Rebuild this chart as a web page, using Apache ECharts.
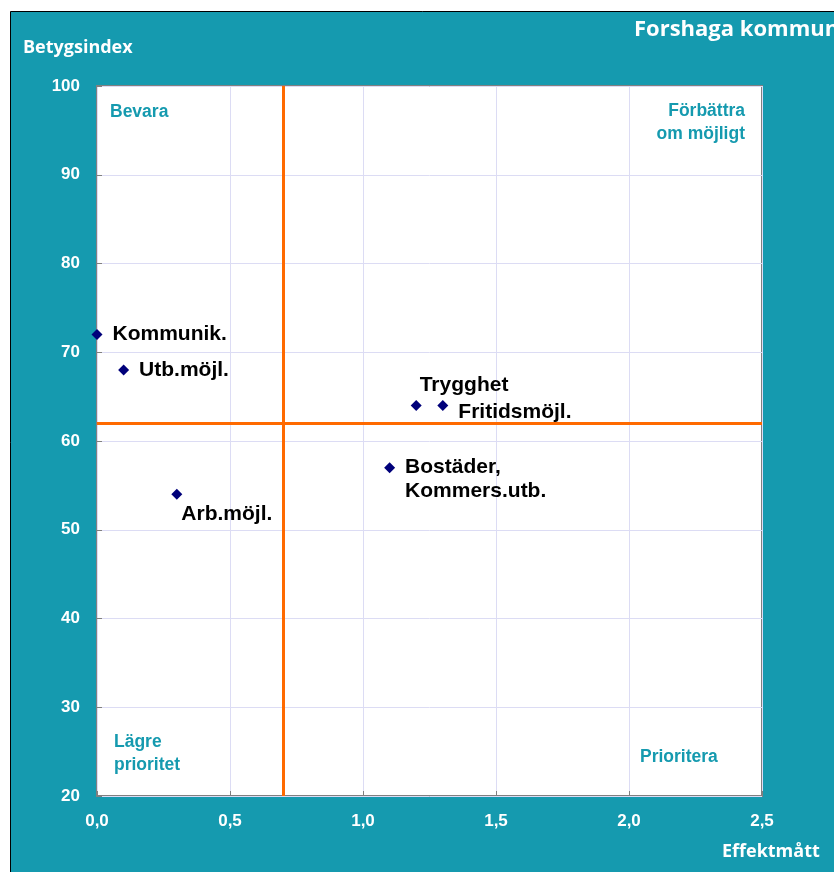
<!DOCTYPE html>
<html><head><meta charset="utf-8">
<script src="https://cdn.jsdelivr.net/npm/echarts@6/dist/echarts.min.js"></script>
<style>html,body{margin:0;padding:0;background:#fff}#c{width:834px;height:872px}</style>
</head><body><div id="c"></div>
<script>
const names = ['Kommunik.', 'Utb.möjl.', 'Arb.möjl.', 'Bostäder,\nKommers.utb.', 'Trygghet', 'Fritidsmöjl.'];
const effekt = [0.0, 0.1, 0.3, 1.1, 1.2, 1.3];
const betyg = [72, 68, 54, 57, 64, 64];
const labelOffsets = [[0,0],[0,0],[-11,20],[0,12],[-12,-20],[0,7]];
const xTicks = {min: 0, max: 2.5, interval: 0.5};
const yTicks = {min: 20, max: 100, interval: 10};
const refX = 0.7, refY = 62;
const quadrants = ['Bevara', 'Förbättra\nom möjligt', 'Lägre\nprioritet', 'Prioritera'];

const teal = '#159aaf';
const chart = echarts.init(document.getElementById('c'));
const data = names.map((n,i)=>({
  value:[effekt[i], betyg[i]],
  label:{show:true, formatter:n, position:'right', distance:10, offset:labelOffsets[i]}
}));
const G = {l:97, t:86, w:665, h:710};
const qStyle = {fill: teal, font: 'bold 17.5px "Liberation Sans", Arial', lineHeight: 23};
chart.setOption({
  animation:false,
  backgroundColor:'#fff',
  grid:{left:G.l, top:G.t, width:G.w, height:G.h, show:true, backgroundColor:'#fff', borderColor:'#808080', borderWidth:2},
  xAxis:{type:'value', min:xTicks.min, max:xTicks.max, interval:xTicks.interval,
    axisLine:{show:false}, axisTick:{show:true, inside:true, length:5, lineStyle:{color:'#808080'}},
    splitLine:{show:true, lineStyle:{color:'#dcdcf4', width:1}},
    axisLabel:{color:'#fff', fontWeight:'bold', fontSize:17, fontFamily:'Liberation Sans', margin:17,
      formatter:v=>v.toFixed(1).replace('.',',')}},
  yAxis:{type:'value', min:yTicks.min, max:yTicks.max, interval:yTicks.interval,
    axisLine:{show:false}, axisTick:{show:true, inside:true, length:5, lineStyle:{color:'#808080'}},
    splitLine:{show:true, lineStyle:{color:'#dcdcf4', width:1}},
    axisLabel:{color:'#fff', fontWeight:'bold', fontSize:17, fontFamily:'Liberation Sans', margin:17}},
  graphic:[
    {type:'rect', z:-10, silent:true, shape:{x:10.5, y:11.5, width:830, height:870}, style:{fill:teal, stroke:'#000', lineWidth:1}},
    {type:'text', left:634, top:19, style:{text:'Forshaga kommun', fill:'#fff', font:'bold 22px "Open Sans"'}},
    {type:'text', left:23, top:39, style:{text:'Betygsindex', fill:'#fff', font:'bold 18px "Open Sans"'}},
    {type:'text', left:722, top:843, style:{text:'Effektmått', fill:'#fff', font:'bold 18px "Open Sans"'}},
    {type:'text', x:110, y:101, z:50, style:Object.assign({text:quadrants[0]}, qStyle)},
    {type:'text', x:745, y:100, z:50, style:Object.assign({text:quadrants[1], align:'right'}, qStyle)},
    {type:'text', x:114, y:731, z:50, style:Object.assign({text:quadrants[2]}, qStyle)},
    {type:'text', x:640, y:746, z:50, style:Object.assign({text:quadrants[3]}, qStyle)}
  ],
  series:[{
    type:'scatter', symbol:'diamond', symbolSize:11, itemStyle:{color:'#00007a', opacity:1},
    label:{color:'#000', fontWeight:'bold', fontSize:21, fontFamily:'Liberation Sans', lineHeight:24},
    data:data,
    markLine:{silent:true, symbol:'none', label:{show:false}, lineStyle:{color:'#ff6a00', width:3, type:'solid'},
      data:[{xAxis:refX},{yAxis:refY}]},
    z:5
  }]
});
</script></body></html>
